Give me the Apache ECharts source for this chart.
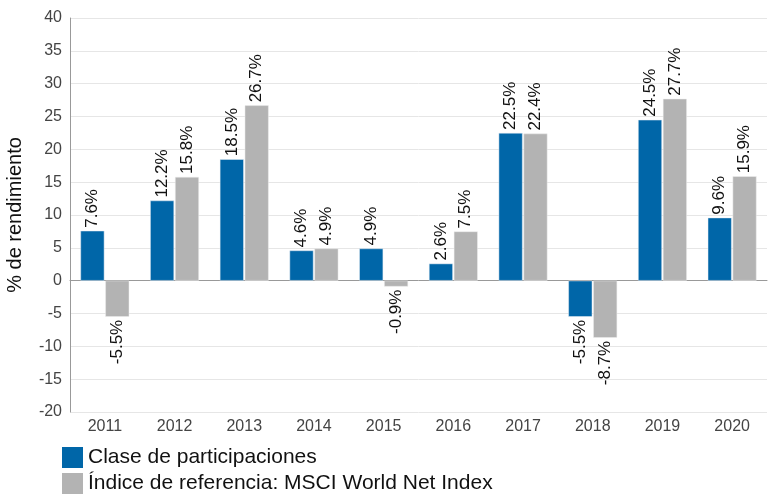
<!DOCTYPE html>
<html><head><meta charset="utf-8">
<script src="https://cdn.jsdelivr.net/npm/echarts@6/dist/echarts.min.js"></script>
<style>html,body{margin:0;padding:0;background:#fff}#c{width:768px;height:496px}</style>
</head><body><div id="c"></div>
<script>
const categories = ['2011','2012','2013','2014','2015','2016','2017','2018','2019','2020'];
const fundValues = [7.6, 12.2, 18.5, 4.6, 4.9, 2.6, 22.5, -5.5, 24.5, 9.6];
const indexValues = [-5.5, 15.8, 26.7, 4.9, -0.9, 7.5, 22.4, -8.7, 27.7, 15.9];
const seriesNames = ['Clase de participaciones', 'Índice de referencia: MSCI World Net Index'];
const yTicks = [-20, -15, -10, -5, 0, 5, 10, 15, 20, 25, 30, 35, 40];

function mk(vals) {
  return vals.map(v => v < 0
    ? { value: v, label: { position: 'bottom', align: 'right' } }
    : { value: v });
}
const font = 'Liberation Sans, Arial, sans-serif';
const chart = echarts.init(document.getElementById('c'));
chart.setOption({
  animation: false,
  textStyle: { fontFamily: font },
  grid: { left: 70, right: 1, top: 18, bottom: 84, containLabel: false, outerBoundsMode: 'none' },
  legend: {
    orient: 'vertical', left: 62, top: 447, padding: 0, height: 60,
    itemWidth: 21, itemHeight: 21, itemGap: 5,
    icon: 'rect',
    itemStyle: { borderWidth: 0 },
    textStyle: { fontSize: 21, lineHeight: 21, color: '#111', fontFamily: font, padding: [0, 0, 0, 0] },
    data: seriesNames
  },
  xAxis: {
    type: 'category', data: categories,
    axisLine: { lineStyle: { color: '#999' } },
    axisTick: { show: false },
    axisLabel: { fontSize: 16, color: '#444', margin: 7, fontFamily: font }
  },
  yAxis: {
    type: 'value', min: yTicks[0], max: yTicks[yTicks.length - 1], interval: 5,
    name: '% de rendimiento', nameLocation: 'middle', nameGap: 45,
    nameTextStyle: { fontSize: 20, color: '#111', fontFamily: font },
    axisLine: { show: true, lineStyle: { color: '#999' } },
    axisTick: { show: false },
    axisLabel: { fontSize: 16, color: '#444', margin: 8, fontFamily: font },
    splitLine: { lineStyle: { color: '#e6e6e6' } }
  },
  series: [
    {
      name: seriesNames[0], type: 'bar', data: mk(fundValues),
      barCategoryGap: '30%', barGap: '4%',
      itemStyle: { color: '#0066a8', borderColor: '#e8eef4', borderWidth: 0.5 },
      label: { show: true, position: 'top', rotate: 90, align: 'left', verticalAlign: 'middle',
        distance: 3, fontSize: 17, color: '#111', fontFamily: font, formatter: p => p.value.toFixed(1) + '%' }
    },
    {
      name: seriesNames[1], type: 'bar', data: mk(indexValues),
      barCategoryGap: '30%', barGap: '4%',
      itemStyle: { color: '#b3b3b3', borderColor: '#eeeeee', borderWidth: 0.5 },
      label: { show: true, position: 'top', rotate: 90, align: 'left', verticalAlign: 'middle',
        distance: 3, fontSize: 17, color: '#111', fontFamily: font, formatter: p => p.value.toFixed(1) + '%' }
    }
  ]
});
</script></body></html>
